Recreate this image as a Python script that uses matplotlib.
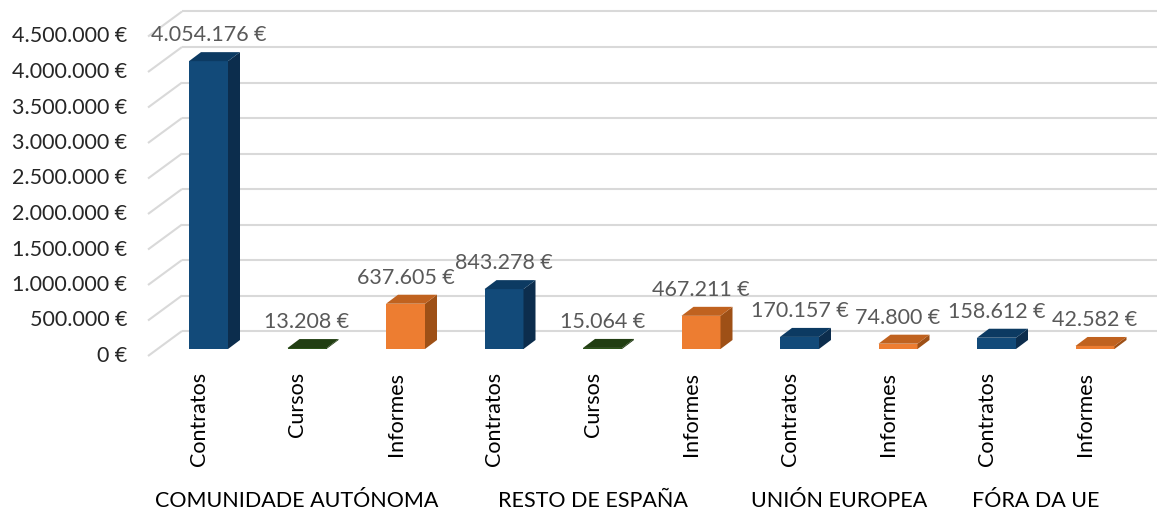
import numpy as np
import matplotlib
matplotlib.use("Agg")
import matplotlib.pyplot as plt
from matplotlib.patches import Polygon

plt.rcParams['font.family'] = ['Lato', 'DejaVu Sans']

# ---- data ----
categories = ["Contratos", "Cursos", "Informes",
              "Contratos", "Cursos", "Informes",
              "Contratos", "Informes",
              "Contratos", "Informes"]
values = [4054176, 13208, 637605,
          843278, 15064, 467211,
          170157, 74800,
          158612, 42582]
groups = ["COMUNIDADE AUTÓNOMA", "RESTO DE ESPAÑA", "UNIÓN EUROPEA", "FÓRA DA UE"]
group_sizes = [3, 3, 2, 2]
y_ticks = list(range(0, 4500001, 500000))

palette = {
    "Contratos": ("#124a79", "#0c2d4d", "#0c3a62"),   # front, side, top
    "Cursos":    ("#2c5418", "#1b340d", "#213e12"),
    "Informes":  ("#ed7d31", "#9e5016", "#c0621f"),
}

def euro(v):
    return f"{v:,.0f}".replace(",", ".") + " €"

FS = 15.5

# ---- figure / scales ----
W, H, DPI = 1157, 516, 100
fig = plt.figure(figsize=(W / DPI, H / DPI), dpi=DPI)
ax = fig.add_axes([0, 0, 1, 1])
ax.axis("off")

px_cat = 98.5                 # pixels per category
px_val = 71e-6                # pixels per euro
x0_px, y0_px = 208.5, 516 - 349   # pixel of category 0 / value 0 (bar front plane)
ax.set_xlim(-x0_px / px_cat, (W - x0_px) / px_cat)
ax.set_ylim(-y0_px / px_val, (H - y0_px) / px_val)

def dxp(p):  # pixels -> category units
    return p / px_cat

def dyp(p):  # pixels -> value units
    return p / px_val

grid_c = "#d9d9d9"
# wall gridlines (back wall + left slanted)
back_dx, back_dy = dxp(24.5), dyp(18)
front_dx, front_dy = dxp(-9.5), dyp(-7)
xmax = ax.get_xlim()[1]
for t in y_ticks:
    ax.plot([front_dx - dxp(51), back_dx - dxp(51)], [t + front_dy, t + back_dy],
            color=grid_c, lw=1.5, solid_capstyle="butt", zorder=0)
    ax.plot([back_dx - dxp(51), xmax], [t + back_dy, t + back_dy],
            color=grid_c, lw=1.5, solid_capstyle="butt", zorder=0)
    ax.text(front_dx - dxp(72), t + front_dy, euro(t), ha="right", va="center",
            fontsize=FS, color="#262626")

# ---- 3D-look bars ----
x = np.arange(len(values))
w = 39 / px_cat
bdx, bdy = dxp(12), dyp(9)
fronts = [palette[c][0] for c in categories]
ax.bar(x, values, width=w, color=fronts, zorder=2, linewidth=0)
for xi, v, c in zip(x, values, categories):
    f, s, tcol = palette[c]
    l, r = xi - w / 2, xi + w / 2
    top = Polygon([(l, v), (r, v), (r + bdx, v + bdy), (l + bdx, v + bdy)],
                  closed=True, facecolor=tcol, edgecolor="none", zorder=3)
    side = Polygon([(r, 0), (r, v), (r + bdx, v + bdy), (r + bdx, bdy)],
                   closed=True, facecolor=s, edgecolor="none", zorder=3)
    ax.add_patch(side)
    ax.add_patch(top)
    ax.text(xi, v + bdy + dyp(17), euro(v), ha="center", va="center",
            fontsize=FS, color="#595959", zorder=4)

# ---- category labels ----
for xi, c in zip(x, categories):
    ax.text(xi - dxp(10), dyp(-23), c, rotation=90, ha="center", va="top",
            fontsize=FS, color="#000000")

start = 0
for g, n in zip(groups, group_sizes):
    center = np.mean(x[start:start + n]) - dxp(10)
    ax.text(center, dyp(-152), g, ha="center", va="center",
            fontsize=FS, color="#000000")
    start += n

fig.savefig("out.png", dpi=DPI, facecolor="white")
